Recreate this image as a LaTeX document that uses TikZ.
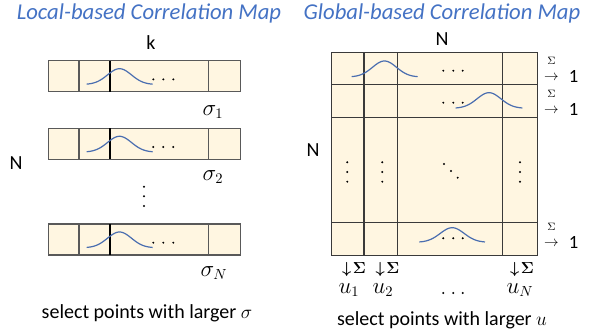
\documentclass[tikz,border=0pt]{standalone}
\usepackage{amsmath}
\usepackage[no-math]{fontspec}
\setmainfont{Carlito}
\definecolor{cream}{HTML}{FFF6E1}
\definecolor{rowgray}{HTML}{595959}
\definecolor{gridline}{HTML}{3A3A3A}
\definecolor{curveblue}{HTML}{4A6EB0}
\definecolor{titleblue}{HTML}{4472C4}
\begin{document}
\begin{tikzpicture}[x=0.75pt,y=-0.75pt,
  cellbox/.style={fill=cream, draw=rowgray, line width=1pt},
  graydiv/.style={draw=rowgray, line width=1pt},
  blackdiv/.style={draw=black, line width=0.8pt},
  gridln/.style={draw=gridline, line width=1pt},
  gauss/.style={draw=curveblue, line width=0.9pt},
  dotmark/.style={fill=black, draw=none},
  titletext/.style={text=titleblue, font=\fontsize{17}{20}\selectfont\itshape},
  lbl/.style={font=\fontsize{15}{18}\selectfont, inner sep=0pt},
  mathlbl/.style={font=\fontsize{16}{18}\selectfont, inner sep=0pt},
  sumdown/.style={font=\fontsize{13}{15}\selectfont, inner sep=0pt},
  sumlbl/.style={font=\fontsize{8}{9}\selectfont, inner sep=0pt},
  arrlbl/.style={font=\fontsize{11}{12}\selectfont, inner sep=0pt},
  onelbl/.style={font=\fontsize{14}{16}\selectfont, inner sep=0pt},
]
\useasboundingbox (0,0) rectangle (590,331);

% ---------- titles ----------
\node[titletext] (tL) at (149,13) {Local-based Correlation Map};
\node[titletext] (tG) at (442,13) {Global-based Correlation Map};

% ---------- left panel ----------
\foreach \t in {60.7,128.3,224} {
  \draw[cellbox] (48.3,\t) rectangle (240.7,\t+31);
  \draw[graydiv] (79,\t) -- (79,\t+31);
  \draw[graydiv] (208.3,\t) -- (208.3,\t+31);
  \draw[blackdiv] (110,\t) -- (110,\t+31);
  \draw[gauss] plot[domain=86.7:152.7, samples=50, smooth] (\x, {\t+23.8 - 15.8*exp(-((\x-119.5)^2)/288)});
  \foreach \xx in {153.3,163.3,173.3} \fill[dotmark] (\xx,\t+18.7) circle (1.1);
}
\node[lbl] (k) at (151,43) {k};
\node[lbl] (NL) at (16,163) {N};
\node[mathlbl] (s1) at (213,112) {$\sigma_1$};
\node[mathlbl] (s2) at (213,177) {$\sigma_2$};
\node[mathlbl] (sN) at (214,273) {$\sigma_N$};
\foreach \yy in {186.7,196.3,206} \fill[dotmark] (144,\yy) circle (1.1);
\node[lbl] (capL) at (147,313) {select points with larger $\sigma$};

% ---------- right panel ----------
\draw[fill=cream, draw=gridline, line width=1pt] (331.7,52.3) rectangle (537.3,255.7);
\foreach \xx in {364,397.7,502.7} \draw[gridln] (\xx,52.3) -- (\xx,255.7);
\foreach \yy in {84.3,117.7,222.3} \draw[gridln] (331.7,\yy) -- (537.3,\yy);

\draw[gauss] plot[domain=351.7:417.7, samples=50, smooth] (\x, {77 - 16*exp(-((\x-384.5)^2)/288)});
\draw[gauss] plot[domain=455.7:522.3, samples=50, smooth] (\x, {108.3 - 15.6*exp(-((\x-489)^2)/288)});
\draw[gauss] plot[domain=419.3:485, samples=50, smooth] (\x, {242.3 - 14.6*exp(-((\x-452.2)^2)/288)});

\foreach \xx in {443.3,453.3,462.7} {
  \fill[dotmark] (\xx,70.7) circle (1.1);
  \fill[dotmark] (\xx,102.7) circle (1.1);
  \fill[dotmark] (\xx,238.3) circle (1.1);
}
\foreach \xx in {347.3,382.3,520} \foreach \yy in {162.3,172,181.7} \fill[dotmark] (\xx,\yy) circle (1.1);
\fill[dotmark] (444,164) circle (1.1);
\fill[dotmark] (451,171) circle (1.1);
\fill[dotmark] (457.7,177.7) circle (1.1);

\node[lbl] (NT) at (442,39) {N};
\node[lbl] (NR) at (313,150) {N};

\foreach \nm/\yy in {r1/63, r2/96, r4/229} {
  \node[sumlbl] (\nm s) at (551.5,\yy-2.5) {$\Sigma$};
  \node[arrlbl] (\nm a) at (551.5,\yy+15) {$\rightarrow$};
  \node[onelbl] (\nm o) at (573.5,\yy+13) {1};
}

\node[sumdown] (d1) at (354,270) {$\boldsymbol{\downarrow}\!\boldsymbol{\Sigma}$};
\node[sumdown] (d2) at (387.5,270) {$\boldsymbol{\downarrow}\!\boldsymbol{\Sigma}$};
\node[sumdown] (dN) at (522,270) {$\boldsymbol{\downarrow}\!\boldsymbol{\Sigma}$};
\node[mathlbl] (u1) at (349,290) {$u_1$};
\node[mathlbl] (u2) at (383,290) {$u_2$};
\node[mathlbl] (uN) at (520,290) {$u_N$};
\foreach \xx in {443.3,453.3,462.7} \fill[dotmark] (\xx,293) circle (1.1);
\node[lbl] (capR) at (442,320) {select points with larger $u$};
\end{tikzpicture}
\end{document}
